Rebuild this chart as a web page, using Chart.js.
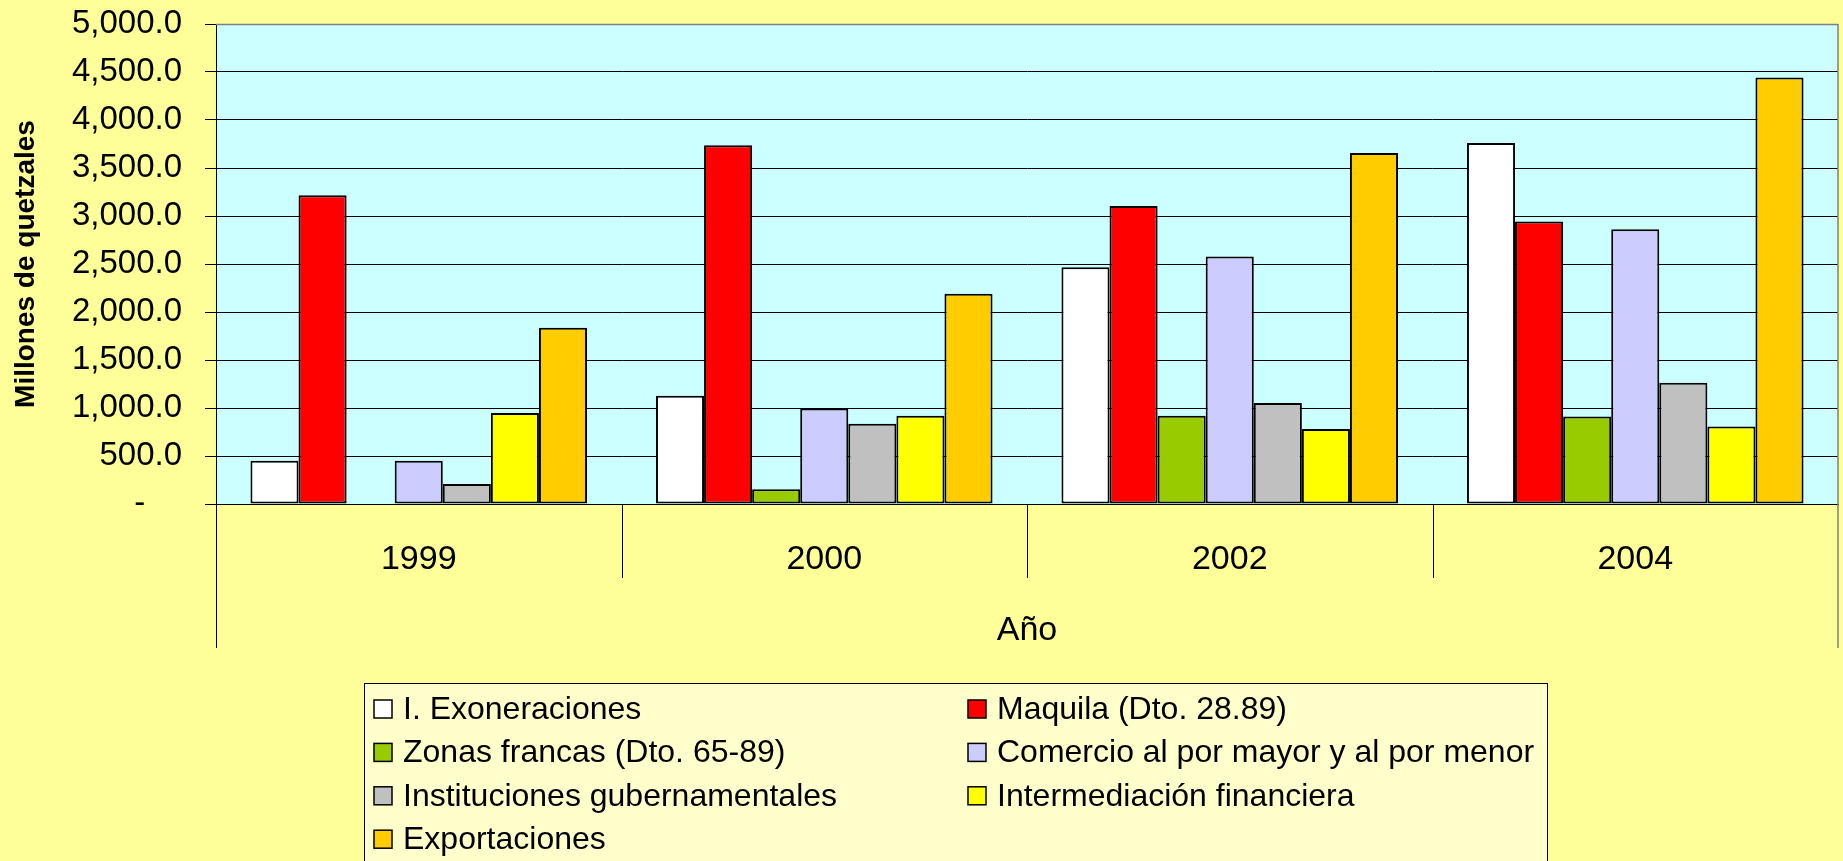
<!DOCTYPE html>
<html>
<head>
<meta charset="utf-8">
<title>Exenciones por año</title>
<script src="https://cdn.jsdelivr.net/npm/chart.js@4.4.1/dist/chart.umd.min.js"></script>
<style>
	html, body { margin: 0; padding: 0; background: #FFFF99; }
	#contenedor { width: 1843px; height: 861px; position: relative; }
</style>
</head>
<body>
<div id="contenedor"><canvas id="cnvExenciones"></canvas></div>
<script>
// valores (millones de quetzales)
var anios = ["1999", "2000", "2002", "2004"];
var exoneraciones = [450, 1127, 2467, 3761];
var maquila = [3215, 3737, 3104, 2944];
var zonasFrancas = [0, 153, 919, 911];
var comercio = [450, 995, 2578, 2863];
var instituciones = [209, 835, 1051, 1263];
var intermediacion = [947, 919, 780, 807];
var exportaciones = [1837, 2189, 3657, 4444];

var nombres = [
	"I. Exoneraciones",
	"Maquila (Dto. 28.89)",
	"Zonas francas (Dto. 65-89)",
	"Comercio al por mayor y al por menor",
	"Instituciones gubernamentales",
	"Intermediación financiera",
	"Exportaciones"
];
var colores = ["#FFFFFF", "#FF0000", "#99CC00", "#CCCCFF", "#C0C0C0", "#FFFF00", "#FFCC00"];
var series = [exoneraciones, maquila, zonasFrancas, comercio, instituciones, intermediacion, exportaciones];

var fuente = "'Liberation Sans', Arial, sans-serif";

var datasets = [];
for (var i = 0; i < series.length; i++) {
	datasets.push({
		label: nombres[i],
		data: series[i],
		backgroundColor: colores[i],
		borderColor: "#000000",
		borderWidth: 2,
		borderSkipped: false,
		categoryPercentage: 0.83,
		barPercentage: 1
	});
}

// fondo del area de trazado
var fondo = {
	id: "fondo",
	beforeDraw: function(chart){
		var a = chart.chartArea, ctx = chart.ctx;
		ctx.save();
		ctx.fillStyle = "#CCFFFF";
		ctx.fillRect(a.left, a.top, a.right - a.left, a.bottom - a.top);
		ctx.restore();
	}
};

// separadores del eje x, borde y leyenda a dos columnas
var extras = {
	id: "extras",
	afterDraw: function(chart){
		var a = chart.chartArea, ctx = chart.ctx, x = chart.scales.x;
		ctx.save();
		ctx.lineWidth = 1;
		ctx.strokeStyle = "#000000";
		ctx.beginPath();
		for (var i = 1; i < anios.length; i++) {
			var xb = Math.round((x.getPixelForTick(i - 1) + x.getPixelForTick(i)) / 2) + 0.5;
			ctx.moveTo(xb, a.bottom);
			ctx.lineTo(xb, a.bottom + 74);
		}
		ctx.moveTo(Math.round(a.left) + 0.5, a.bottom);
		ctx.lineTo(Math.round(a.left) + 0.5, a.bottom + 144);
		ctx.stroke();

		ctx.strokeStyle = "#808080";
		ctx.lineWidth = 1.5;
		ctx.beginPath();
		ctx.moveTo(a.left, Math.round(a.top) + 0.5);
		ctx.lineTo(a.right, Math.round(a.top) + 0.5);
		ctx.moveTo(a.right, a.top);
		ctx.lineTo(a.right, a.bottom + 144);
		ctx.stroke();

		// leyenda
		var lx = 364, ly = 683, lw = 1183, lh = 190;
		ctx.fillStyle = "#FFFFCC";
		ctx.fillRect(lx, ly, lw, lh);
		ctx.strokeStyle = "#000000";
		ctx.lineWidth = 1;
		ctx.strokeRect(lx + 0.5, ly + 0.5, lw, lh);

		ctx.font = "32px " + fuente;
		ctx.textBaseline = "middle";
		ctx.textAlign = "left";
		chart.data.datasets.forEach(function(ds, k){
			var col = k % 2, fila = Math.floor(k / 2);
			var sx = 374 + col * 594, cy = 709 + fila * 43.4;
			ctx.fillStyle = ds.backgroundColor;
			ctx.fillRect(sx, cy - 9, 18, 18);
			ctx.lineWidth = 1.5;
			ctx.strokeStyle = "#000000";
			ctx.strokeRect(sx, cy - 9, 18, 18);
			ctx.fillStyle = "#000000";
			ctx.fillText(ds.label, sx + 29, cy + 1);
		});
		ctx.restore();
	}
};

new Chart(document.getElementById("cnvExenciones").getContext("2d"), {
	type: "bar",
	data: {
		labels: anios,
		datasets: datasets
	},
	options: {
		responsive: true,
		maintainAspectRatio: false,
		animation: false,
		layout: { padding: { top: 24, right: 5, bottom: 213, left: 0 } },
		plugins: {
			legend: { display: false },
			tooltip: { enabled: false }
		},
		scales: {
			x: {
				grid: { display: false },
				border: { display: true, color: "#000000", width: 1 },
				ticks: {
					color: "#000000",
					font: { family: fuente, size: 34 },
					padding: 27
				},
				title: {
					display: true,
					text: "Año",
					color: "#000000",
					font: { family: fuente, size: 34 },
					padding: { top: 0, bottom: -3 }
				},
				afterFit: function(scale){ scale.height = 144; }
			},
			y: {
				min: 0,
				max: 5000,
				grid: {
					color: "#000000",
					lineWidth: 1,
					drawTicks: true,
					tickLength: 11
				},
				border: { display: true, color: "#000000", width: 1 },
				ticks: {
					stepSize: 500,
					color: "#000000",
					font: { family: fuente, size: 33 },
					padding: 23,
					callback: function(v){
						if (v === 0) return "-    ";
						return v.toLocaleString("en-US", { minimumFractionDigits: 1, maximumFractionDigits: 1 });
					}
				},
				title: {
					display: true,
					text: "Millones de quetzales",
					color: "#000000",
					font: { family: fuente, size: 28, weight: "bold" },
					padding: { top: 9, bottom: 0 }
				},
				afterFit: function(scale){
					scale.width = 216;
					scale.paddingTop = 0;
					scale.paddingBottom = 0;
				}
			}
		}
	},
	plugins: [fondo, extras]
});
</script>
</body>
</html>
